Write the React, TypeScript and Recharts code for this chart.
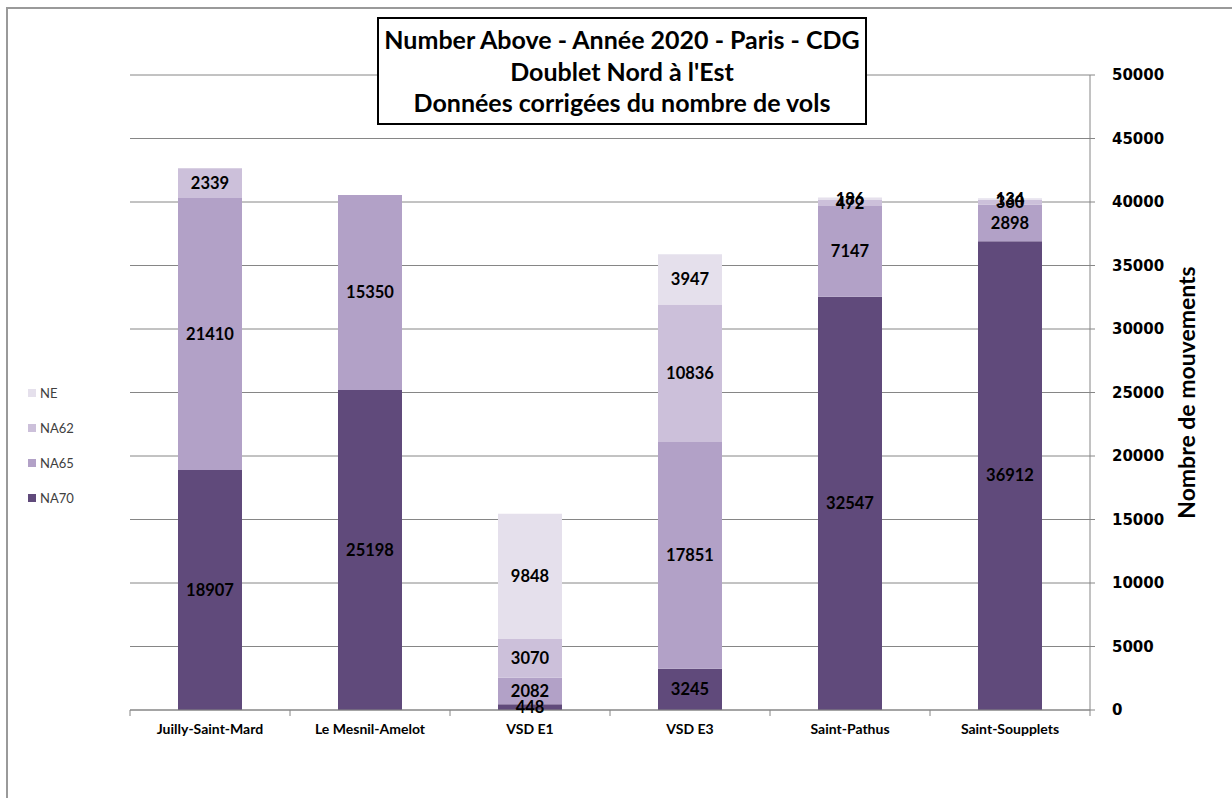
import React from "react";
import {
  BarChart,
  Bar,
  XAxis,
  YAxis,
  CartesianGrid,
  LabelList,
} from "recharts";

const categories = [
  "Juilly-Saint-Mard",
  "Le Mesnil-Amelot",
  "VSD E1",
  "VSD E3",
  "Saint-Pathus",
  "Saint-Soupplets",
];

// stacked from the bottom up
const na70 = [18907, 25198, 448, 3245, 32547, 36912];
const na65 = [21410, 15350, 2082, 17851, 7147, 2898];
const na62 = [2339, 0, 3070, 10836, 472, 360];
const ne = [0, 0, 9848, 3947, 186, 134];

const yTicks = [0, 5000, 10000, 15000, 20000, 25000, 30000, 35000, 40000, 45000, 50000];

const SERIES = [
  { key: "NA70", color: "#604a7b" },
  { key: "NA65", color: "#b2a1c7" },
  { key: "NA62", color: "#ccc0da" },
  { key: "NE", color: "#e5e0ec" },
];

const data = categories.map((name, i) => ({
  name,
  NA70: na70[i],
  NA65: na65[i],
  NA62: na62[i],
  NE: ne[i],
}));

const FONT = "Lato, 'Open Sans', sans-serif";
const GRID = "#868686";

function CategoryTick(props: any) {
  const { x, y, payload, index } = props;
  const half = payload && payload.offset ? payload.offset : 80;
  const last = index === categories.length - 1;
  return (
    <g>
      <line x1={x - half} y1={y} x2={x - half} y2={y + 6} stroke={GRID} />
      {last && <line x1={x + half} y1={y} x2={x + half} y2={y + 6} stroke={GRID} />}
      <text
        x={x}
        y={y + 24}
        textAnchor="middle"
        fontFamily={FONT}
        fontWeight="bold"
        fontSize={14}
        fill="#000"
      >
        {payload.value}
      </text>
    </g>
  );
}

const hideZero = (v: any) => (v ? v : "");

export default function App() {
  return (
    <div
      style={{
        position: "absolute",
        left: 0,
        top: 0,
        width: 1232,
        height: 798,
        background: "#fff",
        overflow: "hidden",
      }}
    >
      <div
        style={{
          position: "absolute",
          left: 6,
          top: 7,
          width: 1240,
          height: 800,
          border: "2px solid #9a9a9a",
          boxSizing: "border-box",
        }}
      />
      <BarChart
        width={1232}
        height={798}
        data={data}
        margin={{ top: 75, right: 0, left: 130, bottom: 58 }}
        barSize={64}
        style={{ position: "absolute", left: 0, top: 0 }}
      >
        <CartesianGrid vertical={false} stroke={GRID} />
        <XAxis
          dataKey="name"
          height={30}
          tickLine={false}
          tickSize={0}
          tickMargin={0}
          axisLine={{ stroke: GRID }}
          tick={<CategoryTick />}
          interval={0}
        />
        <YAxis
          orientation="right"
          width={142}
          domain={[0, 50000]}
          ticks={yTicks}
          allowDataOverflow
          axisLine={{ stroke: GRID }}
          tickLine={{ stroke: GRID }}
          tickSize={5}
          tickMargin={17}
          tick={{
            fontFamily: "'DejaVu Sans', sans-serif",
            fontWeight: "bold",
            fontSize: 15,
            fill: "#000",
          }}
          label={{
            value: "Nombre de mouvements",
            angle: -90,
            position: "center",
            dx: 26,
            style: {
              fontFamily: FONT,
              fontWeight: "bold",
              fontSize: 23,
              fill: "#000",
            },
          }}
        />
        {SERIES.map((s) => (
          <Bar
            key={s.key}
            dataKey={s.key}
            stackId="a"
            fill={s.color}
            isAnimationActive={false}
          >
            <LabelList
              dataKey={s.key}
              position="center"
              formatter={hideZero}
              style={{
                fontFamily: FONT,
                fontWeight: "bold",
                fontSize: 16.5,
                fill: "#000",
              }}
            />
          </Bar>
        ))}
      </BarChart>
      <div
        style={{
          position: "absolute",
          left: 28,
          top: 375,
          fontFamily: FONT,
          fontSize: 13,
          color: "#404040",
        }}
      >
        {[...SERIES].reverse().map((s) => (
          <div
            key={s.key}
            style={{ display: "flex", alignItems: "center", height: 35 }}
          >
            <span
              style={{
                display: "inline-block",
                width: 8,
                height: 8,
                background: s.color,
                marginRight: 4,
              }}
            />
            {s.key}
          </div>
        ))}
      </div>
      <div
        style={{
          position: "absolute",
          left: 377,
          top: 17,
          width: 490,
          height: 108,
          border: "2px solid #000",
          boxSizing: "border-box",
          background: "#fff",
          fontFamily: FONT,
          fontWeight: "bold",
          fontSize: 25,
          lineHeight: "31.5px",
          textAlign: "center",
          color: "#000",
          paddingTop: 5,
        }}
      >
        <div>Number Above - Année 2020 - Paris - CDG</div>
        <div>Doublet Nord à l'Est</div>
        <div>Données corrigées du nombre de vols</div>
      </div>
    </div>
  );
}
